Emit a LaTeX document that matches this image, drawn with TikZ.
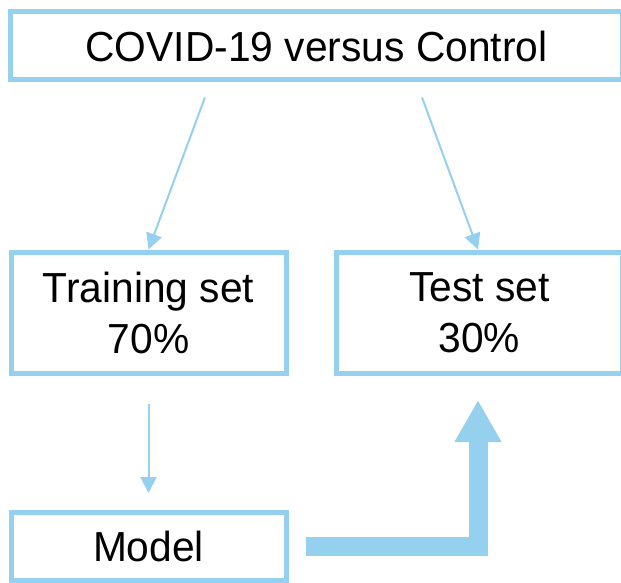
\documentclass[tikz,border=0pt]{standalone}
\usepackage{fontspec}
\setmainfont[FakeStretch=0.97]{Liberation Sans}
\usepackage{tikz}
\usetikzlibrary{arrows.meta,positioning,calc}
\definecolor{boxblue}{RGB}{150,208,239}

\begin{document}
\begin{tikzpicture}[
  x=1pt, y=-1pt,
  >=Stealth,
  box/.style={draw=boxblue, line width=5pt, fill=white, align=center,
              inner sep=0pt, font=\fontsize{42}{51}\selectfont},
  e/.style={->, draw=boxblue, line width=2pt,
            arrows={-Triangle[width=16pt,length=16pt,fill=boxblue]}},
  big/.style={draw=boxblue, line width=19pt, line join=miter,
              arrows={-Triangle[width=44pt,length=42pt,fill=boxblue]}},
]
\useasboundingbox (0,0) rectangle (621,583);
\node[box, minimum width=612pt, minimum height=68pt] (top) at (316.5,46) {COVID-19 versus Control};
\node[box, minimum width=275pt, minimum height=121pt] (train) at (148.5,312.5) {Training set\\70\%};
\node[box, minimum width=286.5pt, minimum height=121pt] (test) at (479.25,312.5) {Test set\\30\%};
\node[box, minimum width=275pt, minimum height=68pt] (model) at (148.5,546.5) {Model};

\draw[e, shorten <=16pt] ([xshift=-106pt]top.south) -- (train.north);
\draw[e, shorten <=16pt] ([xshift=100pt]top.south) -- ([xshift=-1.25pt]test.north);
\draw[e, shorten <=28pt, shorten >=17pt] (train.south) -- (model.north);
\draw[big, shorten <=17.5pt, shorten >=24.5pt] (model.east) -| ([xshift=-1.25pt]test.south);
\end{tikzpicture}
\end{document}
